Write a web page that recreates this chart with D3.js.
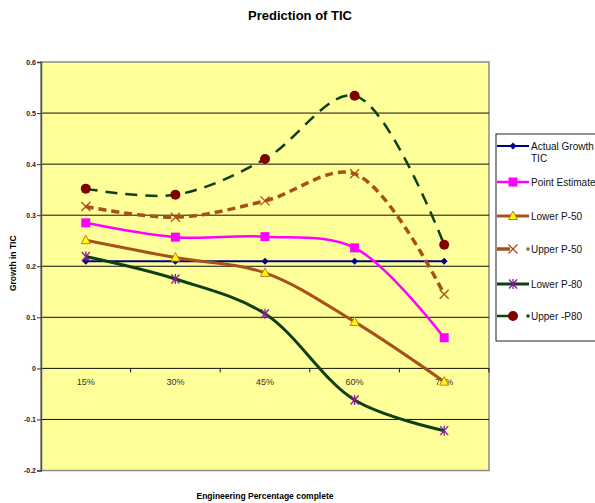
<!DOCTYPE html>
<html>
<head>
<meta charset="utf-8">
<script src="https://cdn.jsdelivr.net/npm/d3@7"></script>
<style>
  body { margin: 0; background: #fff; }
  text { font-family: "Liberation Sans", Arial, sans-serif; }
</style>
</head>
<body>
<div id="container"></div>
<script>
/* CONSTANTS AND GLOBALS */
const width = 595,
  height = 503,
  margin = { top: 62, bottom: 32.5, left: 41, right: 106 };

// chart data
const categories = ["15%", "30%", "45%", "60%", "75%"];
const actualGrowth = [0.21, 0.21, 0.21, 0.21, 0.21];
const pointEstimate = [0.285, 0.257, 0.258, 0.236, 0.06];
const lowerP50 = [0.251, 0.217, 0.187, 0.091, -0.026];
const upperP50 = [0.317, 0.296, 0.328, 0.381, 0.145];
const lowerP80 = [0.219, 0.175, 0.107, -0.062, -0.122];
const upperP80 = [0.352, 0.340, 0.410, 0.534, 0.242];
const yTicks = [-0.2, -0.1, 0, 0.1, 0.2, 0.3, 0.4, 0.5, 0.6];

const series = [
  { name: "Actual Growth TIC", label: ["Actual Growth", "TIC"], values: actualGrowth, color: "#000080", lw: 2, dash: null, marker: "diamond", smooth: false },
  { name: "Point Estimate", label: ["Point Estimate"], values: pointEstimate, color: "#FF00FF", lw: 2.5, dash: null, marker: "square", smooth: true },
  { name: "Lower P-50", label: ["Lower P-50"], values: lowerP50, color: "#A8501A", lw: 3, dash: null, marker: "triangle", smooth: true },
  { name: "Upper P-50", label: ["Upper P-50"], values: upperP50, color: "#A8501A", lw: 3.5, dash: "8,5", marker: "x", smooth: true },
  { name: "Lower P-80", label: ["Lower P-80"], values: lowerP80, color: "#0E3F12", lw: 3, dash: null, marker: "star", smooth: true },
  { name: "Upper -P80", label: ["Upper -P80"], values: upperP80, color: "#0E3F12", lw: 2.5, dash: "12,8", marker: "circle", smooth: true }
];

/* SCALES */
const xScale = d3.scaleBand()
  .domain(categories)
  .range([margin.left, width - margin.right])
  .padding(0);
const xc = d => xScale(d) + xScale.bandwidth() / 2;

const yScale = d3.scaleLinear()
  .domain([-0.2, 0.6])
  .range([height - margin.bottom, margin.top]);

const svg = d3.select("#container").append("svg")
  .attr("width", width)
  .attr("height", height);

// title
svg.append("text")
  .attr("x", 300).attr("y", 20)
  .attr("text-anchor", "middle")
  .attr("font-size", 13).attr("font-weight", "bold")
  .text("Prediction of TIC");

// plot area
svg.append("rect")
  .attr("x", margin.left).attr("y", margin.top)
  .attr("width", width - margin.right - margin.left)
  .attr("height", height - margin.bottom - margin.top)
  .attr("fill", "#FFFF99")
  .attr("stroke", "#8a8a8a").attr("stroke-width", 1.5);

// gridlines
svg.append("g").selectAll("line")
  .data(yTicks.filter(d => d > -0.2 && d < 0.6))
  .join("line")
  .attr("x1", margin.left).attr("x2", width - margin.right)
  .attr("y1", d => yScale(d)).attr("y2", d => yScale(d))
  .attr("stroke", "#111").attr("stroke-width", 1);

// y axis
const yAxis = d3.axisLeft(yScale).tickValues(yTicks).tickSize(4)
  .tickFormat(d => String(+d.toFixed(1)));
const yg = svg.append("g")
  .attr("transform", `translate(${margin.left},0)`)
  .call(yAxis);
yg.select(".domain").attr("stroke", "#555").attr("stroke-width", 1.5);
yg.selectAll(".tick line").attr("stroke", "#333");
yg.selectAll(".tick text")
  .attr("font-size", 7).attr("font-weight", "bold")
  .attr("font-family", "Liberation Sans, Arial, sans-serif")
  .attr("fill", "#222").attr("x", -5);

// x axis along zero, ticks at band edges
const zeroY = yScale(0);
const edges = categories.map(d => xScale(d)).concat([xScale(categories[categories.length - 1]) + xScale.bandwidth()]);
svg.append("g").selectAll("line")
  .data(edges.slice(1))
  .join("line")
  .attr("x1", d => d).attr("x2", d => d)
  .attr("y1", zeroY).attr("y2", zeroY + 4)
  .attr("stroke", "#111");
svg.append("g").selectAll("text")
  .data(categories)
  .join("text")
  .attr("x", d => xc(d)).attr("y", zeroY + 17)
  .attr("text-anchor", "middle")
  .attr("font-size", 9).attr("fill", "#333")
  .text(d => d);

// axis labels
svg.append("text")
  .attr("x", (margin.left + width - margin.right) / 2)
  .attr("y", 499)
  .attr("text-anchor", "middle")
  .attr("font-size", 8.5).attr("font-weight", "bold")
  .text("Engineering Percentage complete");

svg.append("text")
  .attr("transform", `translate(16,${(margin.top + height - margin.bottom) / 2 - 3}) rotate(-90)`)
  .attr("text-anchor", "middle")
  .attr("font-size", 8.5).attr("font-weight", "bold")
  .text("Growth in TIC");

// markers
function drawMarker(g, type, x, y, color) {
  if (type === "diamond") {
    g.append("path").attr("d", `M${x},${y - 3.5}L${x + 3.5},${y}L${x},${y + 3.5}L${x - 3.5},${y}Z`).attr("fill", color);
  } else if (type === "square") {
    g.append("rect").attr("x", x - 4.5).attr("y", y - 4.5).attr("width", 9).attr("height", 9).attr("fill", "#FF00FF");
  } else if (type === "triangle") {
    g.append("path").attr("d", `M${x},${y - 5}L${x + 4.5},${y + 3.5}L${x - 4.5},${y + 3.5}Z`)
      .attr("fill", "#FFFF00").attr("stroke", "#C87820").attr("stroke-width", 1);
  } else if (type === "x") {
    g.append("path").attr("d", `M${x - 4.5},${y - 4.5}L${x + 4.5},${y + 4.5}M${x - 4.5},${y + 4.5}L${x + 4.5},${y - 4.5}`)
      .attr("stroke", "#A8501A").attr("stroke-width", 1.3);
  } else if (type === "star") {
    g.append("path").attr("d", `M${x - 4},${y - 4.5}L${x + 4},${y + 4.5}M${x - 4},${y + 4.5}L${x + 4},${y - 4.5}M${x},${y - 5}L${x},${y + 5}`)
      .attr("stroke", "#8B1A9A").attr("stroke-width", 1.3);
  } else if (type === "circle") {
    g.append("circle").attr("cx", x).attr("cy", y).attr("r", 5).attr("fill", "#800000");
  }
}

const lineGen = d3.line()
  .x((d, i) => xc(categories[i]))
  .y(d => yScale(d));

series.forEach(s => {
  const g = svg.append("g");
  g.append("path")
    .datum(s.values)
    .attr("d", lineGen.curve(s.smooth ? d3.curveCatmullRom.alpha(0.5) : d3.curveLinear))
    .attr("fill", "none")
    .attr("stroke", s.color)
    .attr("stroke-width", s.lw)
    .attr("stroke-dasharray", s.dash);
  s.values.forEach((v, i) => drawMarker(g, s.marker, xc(categories[i]), yScale(v), s.color));
});

// legend
const lg = svg.append("g");
lg.append("rect")
  .attr("x", 496).attr("y", 134)
  .attr("width", 110).attr("height", 207)
  .attr("fill", "#fff").attr("stroke", "#222").attr("stroke-width", 1);

const legendY = [146, 182, 216, 249, 284, 316];
series.forEach((s, i) => {
  const y = legendY[i];
  const g = lg.append("g");
  if (s.dash) {
    g.append("line").attr("x1", 497).attr("x2", 510).attr("y1", y).attr("y2", y)
      .attr("stroke", s.color).attr("stroke-width", s.lw);
    g.append("rect").attr("x", 526.5).attr("y", y - 1.5).attr("width", 3).attr("height", 3).attr("fill", s.color);
  } else {
    g.append("line").attr("x1", 497).attr("x2", 529).attr("y1", y).attr("y2", y)
      .attr("stroke", s.color).attr("stroke-width", s.lw);
  }
  drawMarker(g, s.marker, 513, y, s.color);
  const t = g.append("text")
    .attr("x", 531).attr("y", y + 3.5)
    .attr("font-size", 10).attr("fill", "#111");
  s.label.forEach((l, j) => {
    t.append("tspan").attr("x", 531).attr("dy", j === 0 ? 0 : 12).text(l);
  });
});
</script>
</body>
</html>
